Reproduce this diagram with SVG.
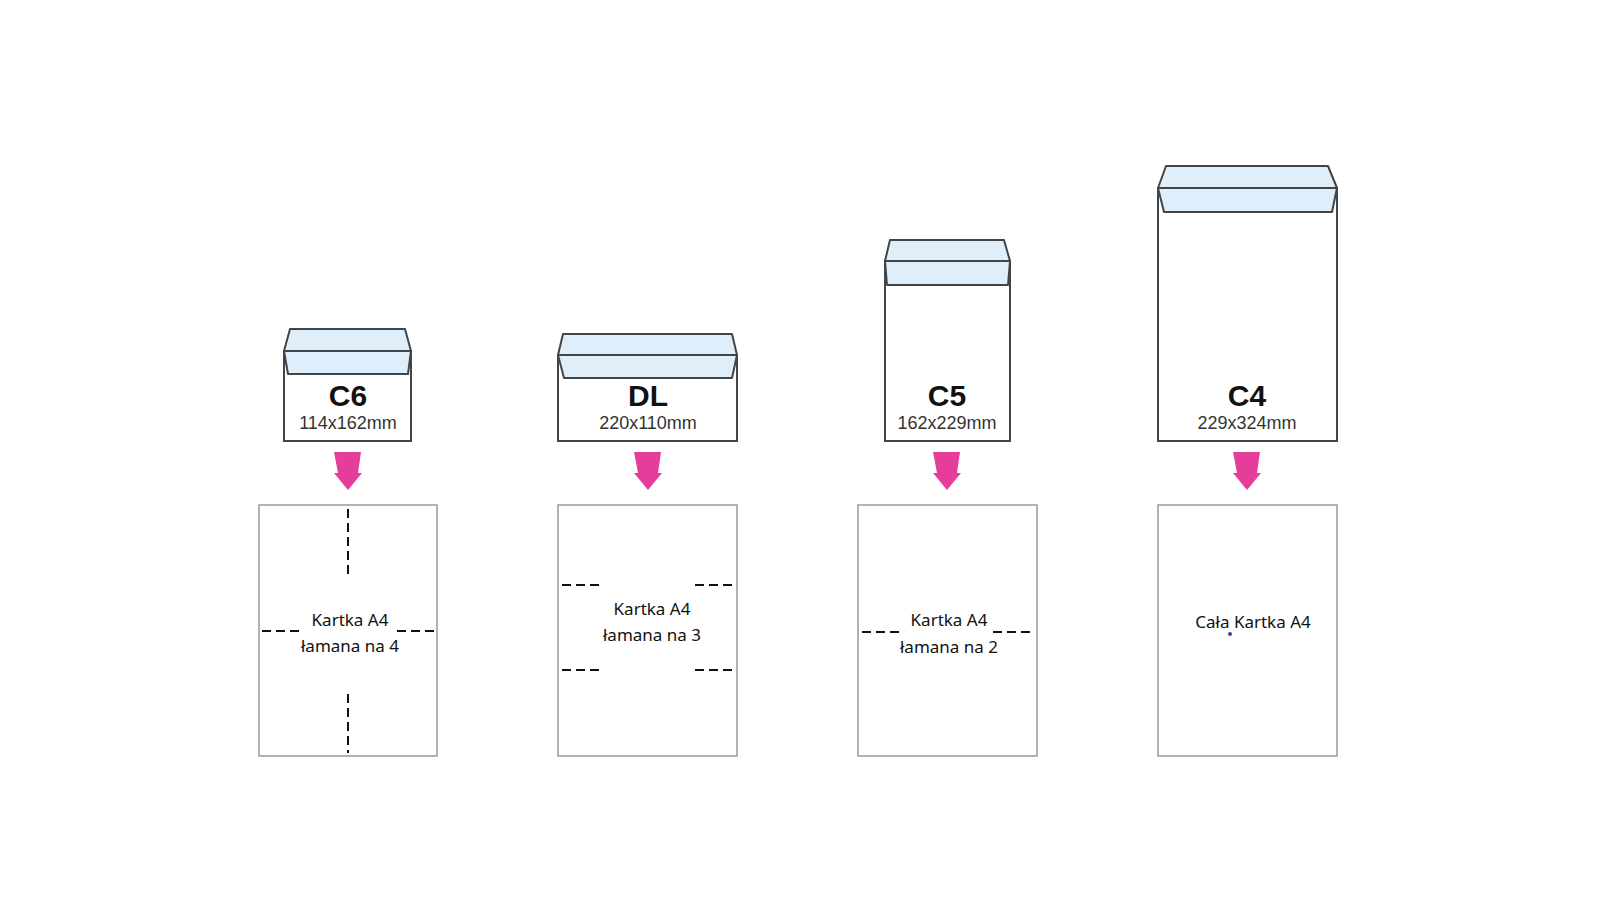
<svg xmlns="http://www.w3.org/2000/svg" width="1600" height="900" viewBox="0 0 1600 900">
<style>
.env{fill:#ffffff;stroke:#424548;stroke-width:2}
.flap{fill:#deeefb;stroke:#424548;stroke-width:2;stroke-linejoin:round}
.title{font-family:"Liberation Sans",Arial,sans-serif;font-weight:bold;font-size:30px;fill:#111;text-anchor:middle}
.size{font-family:"Liberation Sans",Arial,sans-serif;font-size:18px;fill:#333;text-anchor:middle}
.sheet{fill:#ffffff;stroke:#9a9a9a;stroke-width:1.5}
.txt{font-family:"Noto Sans","Open Sans",sans-serif;font-size:17px;fill:#111;text-anchor:middle}
.dash{stroke:#111;stroke-width:2;stroke-dasharray:9 5;fill:none}
.arrow{fill:#e63d9b}
</style>
<rect width="1600" height="900" fill="#ffffff"/>

<g id="env-c6">
<rect class="env" x="284" y="351" width="127" height="90"/>
<path class="flap" d="M290 329 L405 329 L411 351 L284 351 Z"/>
<path class="flap" d="M284 351 L411 351 L408 374 L288 374 Z"/>
<text class="title" x="348" y="406">C6</text>
<text class="size" x="348" y="429">114x162mm</text>
</g>

<g id="env-dl">
<rect class="env" x="558" y="355" width="179" height="86"/>
<path class="flap" d="M563 334 L732 334 L737 355 L558 355 Z"/>
<path class="flap" d="M558 355 L737 355 L732 378 L564 378 Z"/>
<text class="title" x="648" y="406">DL</text>
<text class="size" x="648" y="429">220x110mm</text>
</g>

<g id="env-c5">
<rect class="env" x="885" y="261" width="125" height="180"/>
<path class="flap" d="M890 240 L1004 240 L1010 261 L885 261 Z"/>
<path class="flap" d="M885 261 L1010 261 L1008 285 L887 285 Z"/>
<text class="title" x="947" y="406">C5</text>
<text class="size" x="947" y="429">162x229mm</text>
</g>

<g id="env-c4">
<rect class="env" x="1158" y="188" width="179" height="253"/>
<path class="flap" d="M1166 166 L1328 166 L1337 188 L1158 188 Z"/>
<path class="flap" d="M1158 188 L1337 188 L1332 212 L1164 212 Z"/>
<text class="title" x="1247" y="406">C4</text>
<text class="size" x="1247" y="429">229x324mm</text>
</g>

<g id="connectors">
<path class="arrow" d="M334 452 L361 452 L358 473 L362 473 L348 490 L334 473 L338 473 Z"/>
<path class="arrow" d="M634 452 L661 452 L658 473 L662 473 L648 490 L634 473 L638 473 Z"/>
<path class="arrow" d="M933 452 L960 452 L957 473 L961 473 L947 490 L933 473 L937 473 Z"/>
<path class="arrow" d="M1233 452 L1260 452 L1257 473 L1261 473 L1247 490 L1233 473 L1237 473 Z"/>
</g>

<g id="sheet-c6">
<rect class="sheet" x="259" y="505" width="178" height="251"/>
<line class="dash" x1="348" y1="509" x2="348" y2="574" stroke-dasharray="8 5"/>
<line class="dash" x1="348" y1="694" x2="348" y2="753" stroke-dasharray="8 5"/>
<line class="dash" x1="262" y1="631" x2="302" y2="631"/>
<line class="dash" x1="397" y1="631" x2="435" y2="631"/>
<text class="txt" x="350" y="626">Kartka A4</text>
<text class="txt" x="350" y="652">łamana na 4</text>
</g>

<g id="sheet-dl">
<rect class="sheet" x="558" y="505" width="179" height="251"/>
<line class="dash" x1="562" y1="585" x2="600" y2="585"/>
<line class="dash" x1="695" y1="585" x2="733" y2="585"/>
<line class="dash" x1="562" y1="670" x2="600" y2="670"/>
<line class="dash" x1="695" y1="670" x2="733" y2="670"/>
<text class="txt" x="652" y="615">Kartka A4</text>
<text class="txt" x="652" y="641">łamana na 3</text>
</g>

<g id="sheet-c5">
<rect class="sheet" x="858" y="505" width="179" height="251"/>
<line class="dash" x1="862" y1="632" x2="900" y2="632"/>
<line class="dash" x1="993" y1="632" x2="1032" y2="632"/>
<text class="txt" x="949" y="626">Kartka A4</text>
<text class="txt" x="949" y="653">łamana na 2</text>
</g>

<g id="sheet-c4">
<rect class="sheet" x="1158" y="505" width="179" height="251"/>
<text class="txt" x="1253" y="628">Cała Kartka A4</text>
<circle cx="1230" cy="634" r="2" fill="#3a3f9a"/>
</g>
</svg>
